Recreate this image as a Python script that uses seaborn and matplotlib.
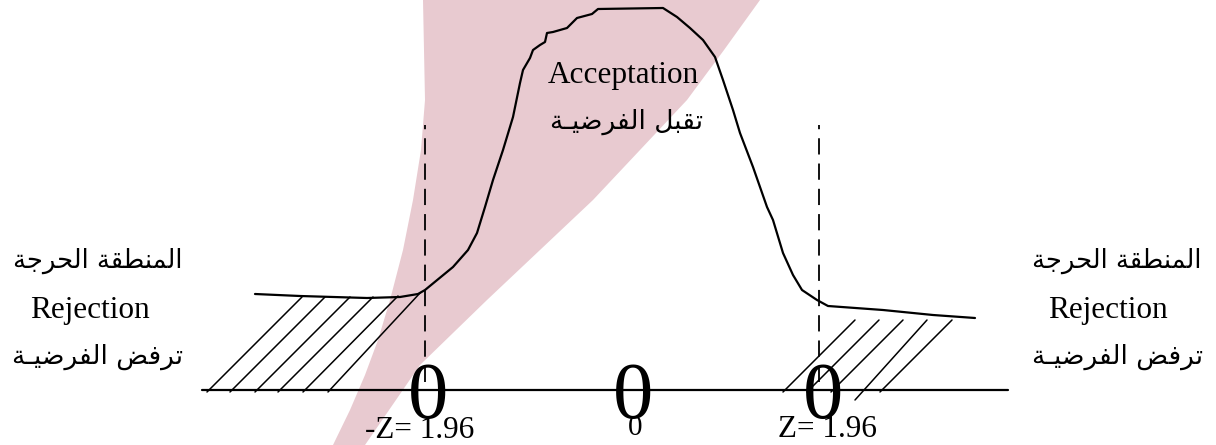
import matplotlib
matplotlib.use("Agg")
import matplotlib.pyplot as plt
import seaborn as sns
import pandas as pd

# curve of the hand drawn distribution (x position, height above the axis)
curve_x = [255, 300, 367, 400, 418, 425, 453, 468, 477, 485, 493, 503, 513, 520, 523,
           530, 533, 540, 545, 547, 553, 567, 573, 577, 592, 598, 663, 677, 690, 703,
           715, 723, 733, 740, 753, 767, 773, 783, 793, 802, 817, 828, 883, 933, 975]
curve_h = [96, 94, 92, 93, 96, 100, 123, 140, 157, 183, 210, 240, 273, 307, 320,
           332, 340, 345, 348, 357, 358, 362, 368, 372, 376, 381, 382, 373, 362, 350,
           333, 310, 280, 257, 223, 183, 170, 137, 115, 100, 90, 84, 80, 75, 72]

# hatching of the rejection areas: start and end of each stroke
hatch_left_x0 = [207, 230, 255, 278, 303, 328]
hatch_left_x1 = [302, 325, 350, 373, 398, 420]
hatch_left_h0 = [-2, -2, -2, -2, -2, -2]
hatch_left_h1 = [93, 93, 93, 93, 94, 97]
hatch_right_x0 = [783, 807, 831, 855, 880]
hatch_right_x1 = [855, 879, 903, 927, 952]
hatch_right_h0 = [-2, -2, -2, -10, -2]
hatch_right_h1 = [70, 70, 70, 70, 70]

# critical values (dashed lines)
crit_x = [425, 819]
crit_h_low = 8
crit_h_high = 265
axis_x = [202, 1008]

# pink watermark band behind the drawing
band_x = [423, 424, 425, 421, 413, 403, 390, 378, 365, 350, 333,
          365, 420, 487, 540, 593, 640, 687, 724, 760]
band_h = [390, 340, 290, 240, 190, 140, 90, 50, 15, -20, -55,
          -55, 25, 90, 140, 190, 240, 290, 340, 390]

AR_FORMS = {
    'ـ': ('\u0640', '\u0640', '\u0640', '\u0640'),
    'ا': ('\uFE8D', '\uFE8E', None, None),
    'ب': ('\uFE8F', '\uFE90', '\uFE91', '\uFE92'),
    'ت': ('\uFE95', '\uFE96', '\uFE97', '\uFE98'),
    'ة': ('\uFE93', '\uFE94', None, None),
    'ج': ('\uFE9D', '\uFE9E', '\uFE9F', '\uFEA0'),
    'ح': ('\uFEA1', '\uFEA2', '\uFEA3', '\uFEA4'),
    'ر': ('\uFEAD', '\uFEAE', None, None),
    'ض': ('\uFEBD', '\uFEBE', '\uFEBF', '\uFEC0'),
    'ط': ('\uFEC1', '\uFEC2', '\uFEC3', '\uFEC4'),
    'ف': ('\uFED1', '\uFED2', '\uFED3', '\uFED4'),
    'ق': ('\uFED5', '\uFED6', '\uFED7', '\uFED8'),
    'ل': ('\uFEDD', '\uFEDE', '\uFEDF', '\uFEE0'),
    'م': ('\uFEE1', '\uFEE2', '\uFEE3', '\uFEE4'),
    'ن': ('\uFEE5', '\uFEE6', '\uFEE7', '\uFEE8'),
    'ي': ('\uFEF1', '\uFEF2', '\uFEF3', '\uFEF4'),
}


def ar(text):
    # matplotlib has no arabic shaping: pick joined forms and reverse for display
    out = []
    for i, c in enumerate(text):
        if c not in AR_FORMS:
            out.append(c)
            continue
        prev = text[i - 1] if i > 0 else ' '
        nxt = text[i + 1] if i + 1 < len(text) else ' '
        join_prev = prev in AR_FORMS and AR_FORMS[prev][2] is not None
        join_next = nxt in AR_FORMS and AR_FORMS[c][2] is not None
        iso, fin, ini, med = AR_FORMS[c]
        if join_prev and join_next:
            out.append(med)
        elif join_prev:
            out.append(fin)
        elif join_next:
            out.append(ini)
        else:
            out.append(iso)
    return ''.join(out)[::-1]


sns.set_theme(style="white")
plt.rcParams['font.family'] = ['Liberation Serif', 'DejaVu Sans']
plt.rcParams['text.color'] = 'black'

fig = plt.figure(figsize=(12.16, 4.45), dpi=100)
ax = fig.add_axes([0, 0, 1, 1])
ax.set_xlim(0, 1216)
ax.set_ylim(-55, 390)
ax.axis('off')

ax.fill(band_x, band_h, color='#e8cad0', lw=0, zorder=0)

df = pd.DataFrame({'x': curve_x, 'h': curve_h})
sns.lineplot(data=df, x='x', y='h', sort=False, color='black', lw=1.6, ax=ax, zorder=3)

for x0, x1, h0, h1 in zip(hatch_left_x0, hatch_left_x1, hatch_left_h0, hatch_left_h1):
    ax.plot([x0, x1], [h0, h1], color='black', lw=1.1, zorder=3)
for x0, x1, h0, h1 in zip(hatch_right_x0, hatch_right_x1, hatch_right_h0, hatch_right_h1):
    ax.plot([x0, x1], [h0, h1], color='black', lw=1.1, zorder=3)

for cx in crit_x:
    ax.plot([cx, cx], [crit_h_low, crit_h_high], color='black', lw=1.3,
            ls=(0, (9, 5)), zorder=3)

ax.plot(axis_x, [0, 0], color='black', lw=1.6, zorder=3)

# big zeros sitting on the axis
for zx in [428, 633, 823]:
    ax.text(zx, -28, '0', fontsize=58, ha='center', va='baseline',
            family='Liberation Serif', zorder=4)

ax.text(365, -48, '-Z= 1.96', fontsize=22.5, ha='left', va='baseline', zorder=5)
ax.text(778, -47, 'Z= 1.96', fontsize=22.5, ha='left', va='baseline', zorder=5)
ax.text(635, -45, '0', fontsize=21, ha='center', va='baseline', zorder=5)

ax.text(623, 307, 'Acceptation', fontsize=22.5, ha='center', va='baseline')
ax.text(627, 268, ar('تقبل الفرضيـة'), fontsize=19, ha='center', va='center',
        family=['DejaVu Sans'])

for cx, rx in [(98, 90), (1117, 1108)]:
    ax.text(cx, 129, ar('المنطقة الحرجة'), fontsize=18.5, ha='center', va='center',
            family=['DejaVu Sans'])
    ax.text(rx, 72, 'Rejection', fontsize=22.5, ha='center', va='baseline')
    ax.text(cx, 33, ar('ترفض الفرضيـة'), fontsize=19, ha='center', va='center',
            family=['DejaVu Sans'])

fig.savefig('out.png', dpi=100)
